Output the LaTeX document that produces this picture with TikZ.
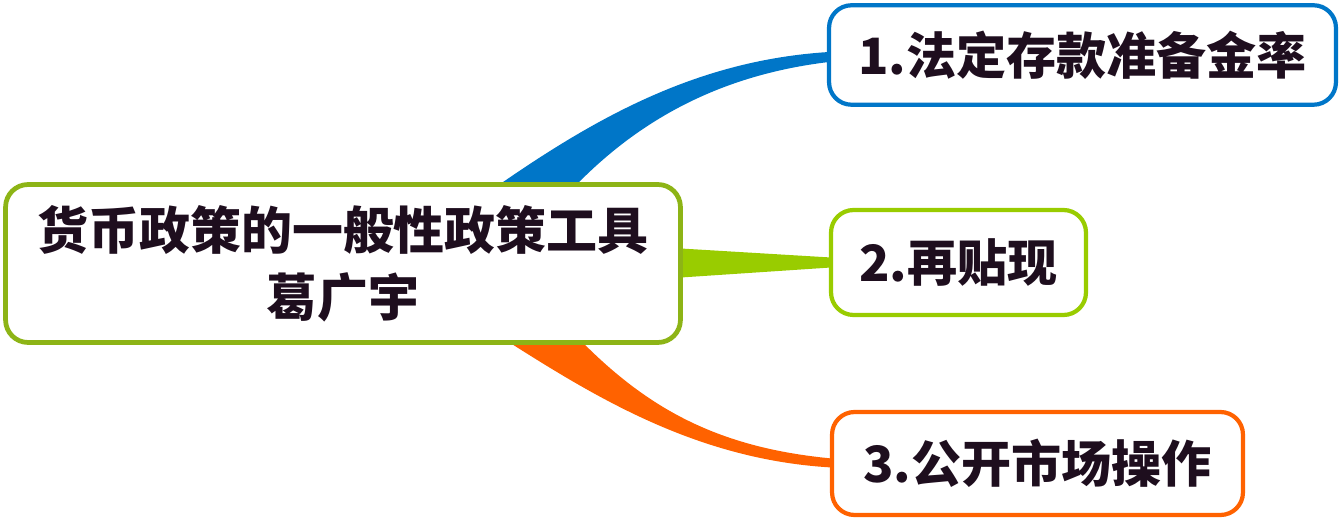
\documentclass[tikz,border=0pt]{standalone}
\usepackage{fontspec}
\usepackage{tikz}
\usetikzlibrary{backgrounds}
\usetikzlibrary{calc}
\newfontfamily\cjk{Noto Sans CJK SC}
\definecolor{inkdark}{RGB}{30,14,30}
\definecolor{rootgreen}{RGB}{141,180,22}
\definecolor{leafgreen}{RGB}{153,204,0}
\definecolor{leafblue}{RGB}{0,118,200}
\definecolor{leaforange}{RGB}{255,98,0}
\tikzset{
  topicbox/.style={draw, rounded corners=0.45cm, line width=2.7pt, fill=white, inner sep=0pt,
    text=inkdark, align=center, font=\cjk\bfseries\fontsize{28.5}{38}\selectfont},
  leafbox/.style={topicbox, line width=2.4pt}
}

\begin{document}
\begin{tikzpicture}[x=0.02cm, y=-0.02cm]
  \useasboundingbox (0,0) rectangle (1341,519);
  \node[topicbox, draw=rootgreen, minimum width=13.5cm, minimum height=3.16cm,
    font=\cjk\bfseries\fontsize{29}{38}\selectfont] (main) at (343,263.5)
    {货币政策的一般性政策工具\\葛广宇};
  \node[leafbox, draw=leafblue, minimum width=10.14cm, minimum height=1.99cm] (reserve) at (1082.5,55)
    {1.法定存款准备金率};
  \node[leafbox, draw=leafgreen, minimum width=5.1cm, minimum height=2.1cm] (rediscount) at (958.5,262.5)
    {2.再贴现};
  \node[leafbox, draw=leaforange, minimum width=8.22cm, minimum height=2.06cm] (openmarket) at (1037.5,463.5)
    {3.公开市场操作};
  % tapered branches behind the boxes
  \begin{scope}[on background layer]
    \fill[leafblue] ($(main.north)+(157,2)$) .. controls (600,115) and (700,60) .. ($(reserve.west)+(2,-3)$)
      -- ($(reserve.west)+(2,7)$) .. controls (720,75) and (640,120) .. ($(main.north)+(234,2)$) -- cycle;
    \fill[leafgreen] ($(main.east)+(-2,-15)$) -- ($(rediscount.west)+(2,-5)$)
      -- ($(rediscount.west)+(2,5)$) -- ($(main.east)+(-2,14)$) -- cycle;
    \fill[leaforange] ($(main.south)+(240,-2)$) .. controls (650,410) and (720,448) .. ($(openmarket.west)+(2,-5)$)
      -- ($(openmarket.west)+(2,4)$) .. controls (700,460) and (600,400) .. ($(main.south)+(167,-2)$) -- cycle;
  \end{scope}
\end{tikzpicture}
\end{document}
